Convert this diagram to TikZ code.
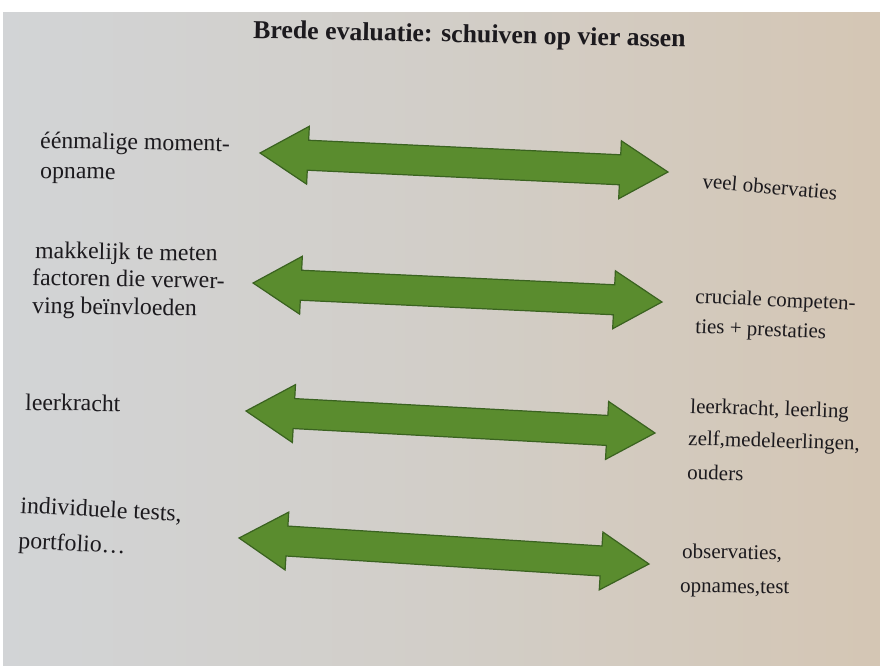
\documentclass[tikz,border=0pt]{standalone}
\usepackage{fontspec}
\setmainfont{Liberation Serif}
\definecolor{arrowfill}{RGB}{90,140,46}
\definecolor{arrowline}{RGB}{58,98,32}
\definecolor{inkc}{RGB}{28,26,30}
\definecolor{pageL}{RGB}{210,212,214}
\definecolor{pageM}{RGB}{210,206,200}
\definecolor{pageR}{RGB}{212,198,180}
\newcommand\DblArrow[4]{%
  \begin{scope}[shift={(#1,#2)},rotate=#4]
    \draw[axisarrow] (-#3,0) -- (-#3+48,-29) -- (-#3+48,-15) -- (#3-48,-15)
      -- (#3-48,-29) -- (#3,0) -- (#3-48,29) -- (#3-48,15) -- (-#3+48,15)
      -- (-#3+48,29) -- cycle;
  \end{scope}}
\begin{document}
\begin{tikzpicture}[x=1pt,y=-1pt,
  axisarrow/.style={fill=arrowfill,draw=arrowline,line width=1.2pt,line join=miter},
  lefttxt/.style={anchor=base west,inner sep=0pt,text=inkc,font=\fontsize{23.8}{28}\selectfont},
  righttxt/.style={anchor=base west,inner sep=0pt,text=inkc,font=\fontsize{21}{26}\selectfont},
  titletxt/.style={anchor=base west,inner sep=0pt,text=inkc,font=\fontsize{25.8}{30}\selectfont\bfseries}]
\useasboundingbox (0,0) rectangle (880,666);
\fill[white] (0,0) rectangle (880,666);
\shade[left color=pageL,right color=pageR,middle color=pageM] (3,13) rectangle (880,666);

\node[titletxt,rotate=-1.2] (title) at (253,38) {Brede evaluatie: schuiven op vier assen};

% axes
\DblArrow{464}{162.5}{204.2}{-2.67}
\DblArrow{457.5}{292.5}{204.7}{-2.66}
\DblArrow{450.5}{422}{204.8}{-3.08}
\DblArrow{444}{551}{205.4}{-3.63}

% left labels
\node[lefttxt,rotate=-1] (l1a) at (40,148) {éénmalige moment-};
\node[lefttxt,rotate=-1] (l1b) at (40,178) {opname};
\node[lefttxt,rotate=-1] (l2a) at (35,258) {makkelijk te meten};
\node[lefttxt,rotate=-1] (l2b) at (32,285) {factoren die verwer-};
\node[lefttxt,rotate=-1] (l2c) at (32,313) {ving beïnvloeden};
\node[lefttxt,rotate=-1] (l3a) at (25,410) {leerkracht};
\node[lefttxt,rotate=-3] (l4a) at (20,513) {individuele tests,};
\node[lefttxt,rotate=-3] (l4b) at (18,548) {portfolio…};

% right labels
\node[righttxt,rotate=-5] (r1a) at (702,188) {veel observaties};
\node[righttxt,rotate=-2.5] (r2a) at (695,303) {cruciale competen-};
\node[righttxt,rotate=-2.5] (r2b) at (695,333) {ties + prestaties};
\node[righttxt,rotate=-1.8] (r3a) at (690,413) {leerkracht, leerling};
\node[righttxt,rotate=-1.8] (r3b) at (688,445) {zelf,medeleerlingen,};
\node[righttxt,rotate=-1.8] (r3c) at (687,479) {ouders};
\node[righttxt,rotate=-1] (r4a) at (682,558) {observaties,};
\node[righttxt,rotate=-1] (r4b) at (680,592) {opnames,test};
\end{tikzpicture}
\end{document}
